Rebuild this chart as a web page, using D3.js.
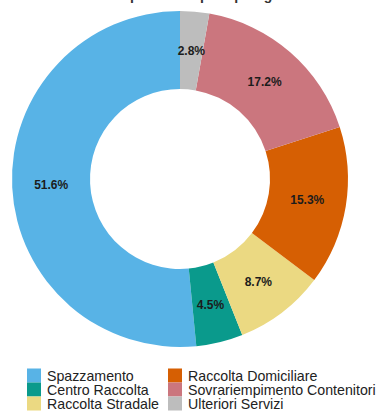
<!DOCTYPE html>
<html>
<head>
<meta charset="utf-8">
<script src="https://cdn.jsdelivr.net/npm/d3@7"></script>
<style>
  html, body { margin: 0; padding: 0; background: #fff; }
  svg { display: block; font-family: "Liberation Sans", Arial, sans-serif; }
</style>
</head>
<body>
<svg id="chart" width="387" height="412"></svg>
<script>
// Service categories and their share of the total (%)
const categories = ["Spazzamento", "Centro Raccolta", "Raccolta Stradale",
                    "Raccolta Domiciliare", "Sovrariempimento Contenitori", "Ulteriori Servizi"];
const values = [51.6, 4.5, 8.7, 15.3, 17.2, 2.8];
const colors = ["#58b3e6", "#0a9a8c", "#ebd982", "#d65f03", "#cb767e", "#bdbdbd"];
const title = "Ripartizione per tipologia";

const svg = d3.select("#chart");
const cx = 180, cy = 179, outerR = 168, innerR = 90;

const color = d3.scaleOrdinal().domain(categories).range(colors);

// Title sits above the visible area
svg.append("text")
  .attr("x", 200).attr("y", 0)
  .attr("text-anchor", "middle")
  .attr("font-size", 14).attr("font-weight", "bold")
  .attr("fill", "#333")
  .text(title);

const data = categories.map((c, i) => ({ name: c, value: values[i] }));

// Slices run counter-clockwise from 12 o'clock
const pie = d3.pie().value(d => d.value).sort(null)
  .startAngle(0).endAngle(-2 * Math.PI);
const arc = d3.arc().innerRadius(innerR).outerRadius(outerR);
const labelArc = d3.arc().innerRadius((innerR + outerR) / 2).outerRadius((innerR + outerR) / 2);

const g = svg.append("g").attr("transform", `translate(${cx},${cy})`);
const arcs = pie(data);

g.selectAll("path.slice").data(arcs).join("path")
  .attr("class", "slice")
  .attr("d", arc)
  .attr("fill", d => color(d.data.name));

g.selectAll("text.lbl").data(arcs).join("text")
  .attr("class", "lbl")
  .attr("transform", d => `translate(${labelArc.centroid(d)})`)
  .attr("text-anchor", "middle")
  .attr("dy", "0.35em")
  .attr("font-size", 12).attr("font-weight", "bold")
  .attr("fill", "#1c1c1c")
  .text(d => d3.format(".1f")(d.data.value) + "%");

// Legend: two columns, filled column by column
const legend = svg.append("g");
const colX = [27, 168], rowY = [375.5, 389.5, 403.5], sw = 14, sh = 14;
categories.forEach((c, i) => {
  const col = Math.floor(i / 3), row = i % 3;
  const item = legend.append("g").attr("transform", `translate(${colX[col]},${rowY[row]})`);
  item.append("rect")
    .attr("x", 0).attr("y", -sh / 2)
    .attr("width", sw).attr("height", sh)
    .attr("fill", color(c));
  item.append("text")
    .attr("x", 20).attr("y", 0).attr("dy", "0.36em")
    .attr("font-size", 14.2).attr("fill", "#222")
    .text(c);
});
</script>
</body>
</html>
